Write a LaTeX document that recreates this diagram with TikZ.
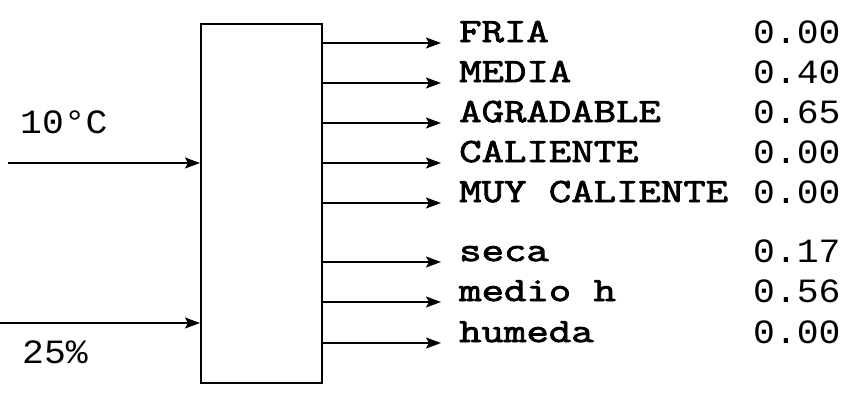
\documentclass[tikz,border=0pt]{standalone}
\usepackage{fontspec}
\usetikzlibrary{arrows.meta}
\newfontfamily\labfont[FakeBold=2.5,FakeStretch=1.28]{Latin Modern Mono}
\newfontfamily\numfont[FakeStretch=1.07]{Liberation Mono}
\begin{document}
\begin{tikzpicture}[x=1pt,y=-1pt,
  conn/.style={line width=1.5pt,-{Stealth[length=15pt,width=11pt,inset=3pt]}},
  lab/.style={anchor=base west,inner sep=0pt,font=\labfont\fontsize{34}{34}\selectfont},
  num/.style={anchor=base west,inner sep=0pt,font=\numfont\fontsize{34}{34}\selectfont}]
\useasboundingbox (0,0) rectangle (844,407);
\node[draw,line width=1.5pt,minimum width=121pt,minimum height=359pt,inner sep=0pt,anchor=north west] (box) at (200,23) {};
% inputs
\coordinate (i1) at (8,163);
\coordinate (i2) at (0,323);
\draw[conn] (i1) -- (box.west |- i1);
\draw[conn] (i2) -- (box.west |- i2);
\node[num] (t1) at (20,133) {10°C};
\node[num] (t2) at (22,363) {25\%};
% outputs
\foreach \n/\y/\l/\v in {1/43/FRIA/0.00, 2/83/MEDIA/0.40, 3/123/AGRADABLE/0.65, 4/163/CALIENTE/0.00, 5/203/MUY CALIENTE/0.00, 6/262/seca/0.17, 7/302/medio h/0.56, 8/343/humeda/0.00}{
  \coordinate (o\n) at (441,\y);
  \draw[conn] (box.east |- o\n) -- (o\n);
  \node[lab] (l\n) at (459,\y-1) {\l};
  \node[num] (v\n) at (753,\y) {\v};
}
\end{tikzpicture}
\end{document}
